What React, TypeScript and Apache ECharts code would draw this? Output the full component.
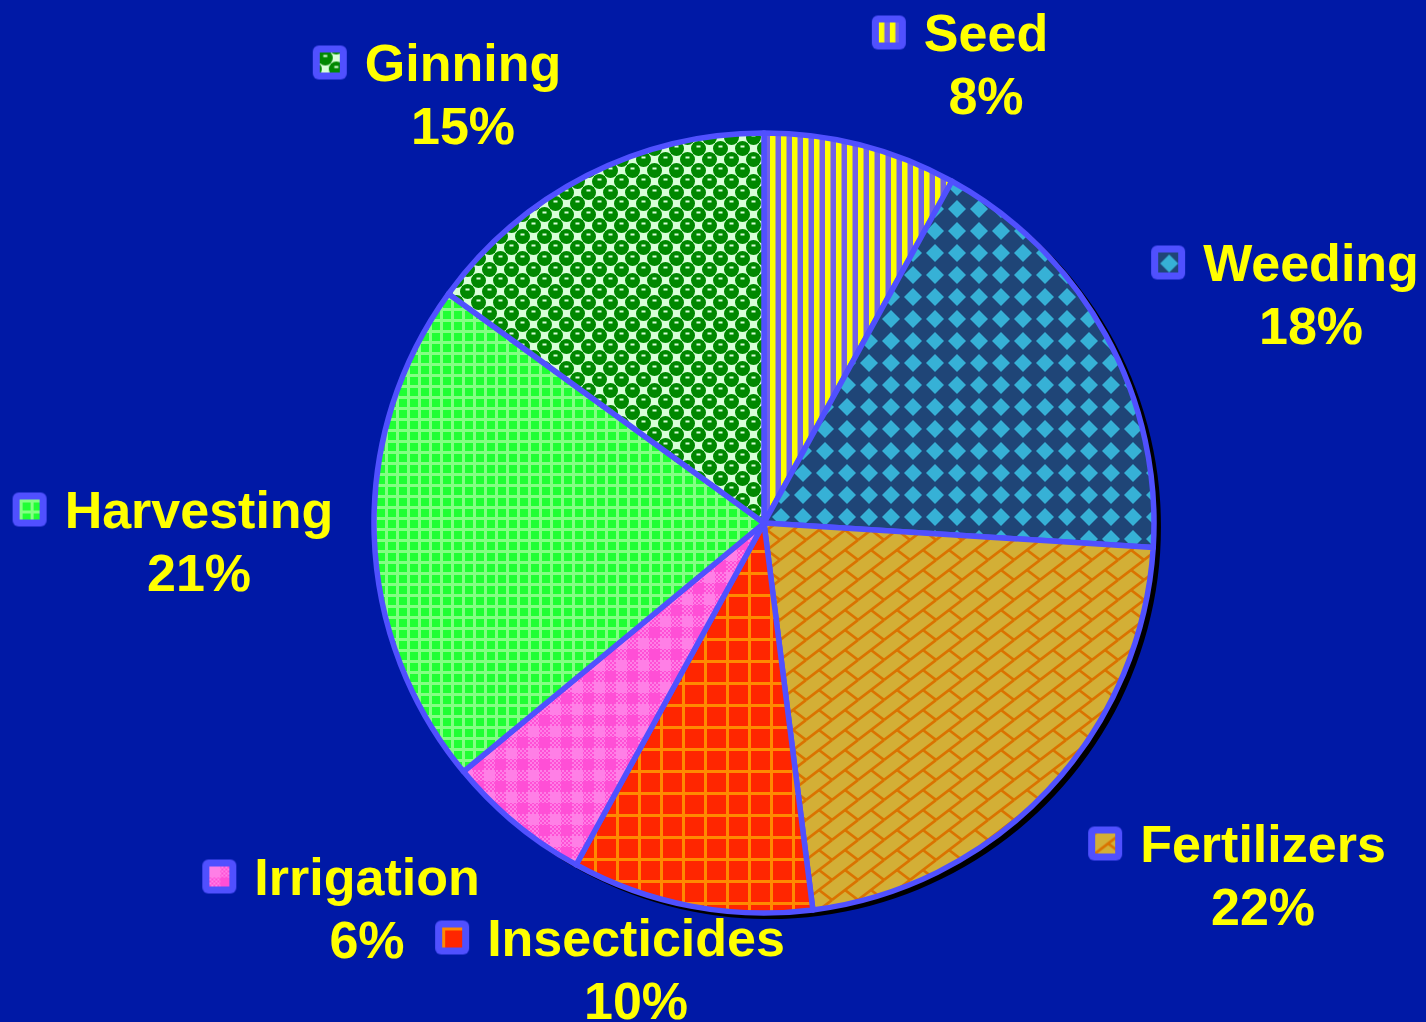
import React, { useEffect, useRef } from 'react';
import * as echarts from 'echarts';

// ---- data ----
const categories = ['Seed', 'Weeding', 'Fertilizers', 'Insecticides', 'Irrigation', 'Harvesting', 'Ginning'];
const shares = [8, 18, 22, 10, 6, 21, 15];

// ---- layout (label block centres, px) ----
const labelAnchors = [
  [986, 64],
  [1311, 294],
  [1263, 875],
  [636, 969],
  [367, 908],
  [199, 541],
  [463, 94],
];

type Tile = { w: number; h: number; draw: (c: CanvasRenderingContext2D, w: number, h: number) => void };

const tiles: Tile[] = [
  // Seed: vertical stripes
  {
    w: 11, h: 11,
    draw: (c, w, h) => {
      c.fillStyle = '#7262E8'; c.fillRect(0, 0, w, h);
      c.fillStyle = '#FFFF00'; c.fillRect(0, 0, 5, h);
      c.fillStyle = '#B9B07A'; c.fillRect(5, 0, 1, h);
    },
  },
  // Weeding: diamonds
  {
    w: 22, h: 22,
    draw: (c, w, h) => {
      c.fillStyle = '#1F4577'; c.fillRect(0, 0, w, h);
      c.fillStyle = '#36B1D6';
      c.beginPath(); c.moveTo(11, 2); c.lineTo(20, 11); c.lineTo(11, 20); c.lineTo(2, 11); c.closePath(); c.fill();
    },
  },
  // Fertilizers: diagonal brick
  {
    w: 26, h: 20,
    draw: (c, w, h) => {
      c.fillStyle = '#D3AF36'; c.fillRect(0, 0, w, h);
      c.strokeStyle = '#DA7300'; c.lineWidth = 2.6;
      for (const dx of [-w, 0, w]) {
        for (const dy of [-h, 0, h]) {
          c.beginPath(); c.moveTo(dx, dy + h); c.lineTo(dx + w, dy); c.stroke();
          c.beginPath(); c.moveTo(dx + w / 2, dy + h / 2); c.lineTo(dx + w, dy + h); c.stroke();
        }
      }
    },
  },
  // Insecticides: orange grid on red
  {
    w: 22, h: 22,
    draw: (c, w, h) => {
      c.fillStyle = '#FF8A00'; c.fillRect(0, 0, w, h);
      c.fillStyle = '#FF2600'; c.fillRect(3, 3, w - 3, h - 3);
    },
  },
  // Irrigation: pink plaid
  {
    w: 22, h: 22,
    draw: (c, w, h) => {
      const light = '#FF7FE6', dark = '#FF4FD6';
      for (let y = 0; y < h; y += 2) {
        for (let x = 0; x < w; x += 2) {
          c.fillStyle = ((x + y) / 2) % 2 === 0 ? light : dark;
          c.fillRect(x, y, 2, 2);
        }
      }
      c.fillStyle = light; c.fillRect(0, 0, 11, 11);
      c.fillStyle = dark; c.fillRect(11, 11, 11, 11);
    },
  },
  // Harvesting: light-green grid on bright green
  {
    w: 11, h: 11,
    draw: (c, w, h) => {
      c.fillStyle = '#84FF84'; c.fillRect(0, 0, w, h);
      c.fillStyle = '#20FF34'; c.fillRect(3, 3, 8, 8);
    },
  },
  // Ginning: green checker with dots
  {
    w: 22, h: 22,
    draw: (c, w, h) => {
      c.fillStyle = '#D9FFD9'; c.fillRect(0, 0, w, h);
      c.fillStyle = '#008800';
      for (const [cx, cy] of [[5.5, 5.5], [16.5, 16.5], [27.5, 5.5], [5.5, 27.5], [-5.5, 16.5], [16.5, -5.5], [27.5, 27.5], [-5.5, -5.5]]) {
        c.fillRect(cx - 5.5, cy - 5.5, 11, 11);
        c.beginPath(); c.arc(cx, cy, 7.5, 0, Math.PI * 2); c.fill();
      }
      c.fillStyle = '#D9FFD9';
      c.fillRect(3.5, 2.5, 4, 2);
      c.fillRect(14.5, 13.5, 4, 2);
    },
  },
];

function tileCanvas(t: Tile): HTMLCanvasElement {
  const cv = document.createElement('canvas');
  cv.width = t.w; cv.height = t.h;
  const c = cv.getContext('2d')!;
  t.draw(c, t.w, t.h);
  return cv;
}

function iconURL(t: Tile): string {
  const cv = document.createElement('canvas');
  cv.width = 34; cv.height = 34;
  const c = cv.getContext('2d')!;
  c.fillStyle = '#5050FF';
  c.beginPath();
  (c as any).roundRect ? (c as any).roundRect(0, 0, 34, 34, 6) : c.rect(0, 0, 34, 34);
  c.fill();
  const pat = c.createPattern(tileCanvas(t), 'repeat')!;
  c.save();
  c.translate(7, 7);
  c.fillStyle = pat;
  c.fillRect(0, 0, 20, 20);
  c.restore();
  return cv.toDataURL();
}

const FONT = "'Liberation Sans', Arial, Helvetica, sans-serif";

export default function App() {
  const ref = useRef<HTMLDivElement>(null);

  useEffect(() => {
    if (!ref.current) return;
    const chart = echarts.init(ref.current, null, { renderer: 'svg' });

    const rich: Record<string, any> = {
      gap: { width: 18 },
      pad: { width: 52 },
      name: { fontSize: 52, fontWeight: 'bold', color: '#FFFF00', fontFamily: FONT, lineHeight: 63 },
      pct: { fontSize: 52, fontWeight: 'bold', color: '#FFFF00', fontFamily: FONT, lineHeight: 63 },
    };
    tiles.forEach((t, i) => {
      rich['ic' + i] = {
        width: 34,
        height: 34,
        backgroundColor: { image: iconURL(t) },
        padding: [0, 0, 10, 0],
      };
    });

    const data = categories.map((name, i) => {
      const t = tiles[i];
      return {
        name,
        value: shares[i],
        itemStyle: {
          color: { image: tileCanvas(t).toDataURL(), repeat: 'repeat', imageWidth: t.w, imageHeight: t.h },
        },
      };
    });

    chart.setOption({
      animation: false,
      backgroundColor: '#0019A6',
      series: [
        {
          type: 'pie',
          silent: true,
          z: 1,
          center: [769, 527],
          radius: 392,
          startAngle: 90,
          label: { show: false },
          labelLine: { show: false },
          itemStyle: { color: '#000000' },
          data: [{ name: 'shadow', value: 1 }],
        },
        {
          type: 'pie',
          z: 2,
          center: [764, 523],
          radius: 390,
          startAngle: 90,
          clockwise: true,
          avoidLabelOverlap: false,
          emphasis: { disabled: true, scale: false },
          itemStyle: { borderColor: '#5050FF', borderWidth: 5.5 },
          label: {
            show: true,
            position: 'outside',
            formatter: (p: any) => `{ic${p.dataIndex}|}{gap|}{name|${p.name}}{pad|}\n{pct|${p.value}%}`,
            rich,
          },
          labelLine: { show: false },
          labelLayout: (params: any) => {
            const a = labelAnchors[params.dataIndex];
            return { x: a[0], y: a[1], align: 'center', verticalAlign: 'middle' };
          },
          data,
        },
      ],
    });

    return () => chart.dispose();
  }, []);

  return (
    <div
      ref={ref}
      style={{ position: 'fixed', left: 0, top: 0, width: 1426, height: 1022 }}
    />
  );
}
